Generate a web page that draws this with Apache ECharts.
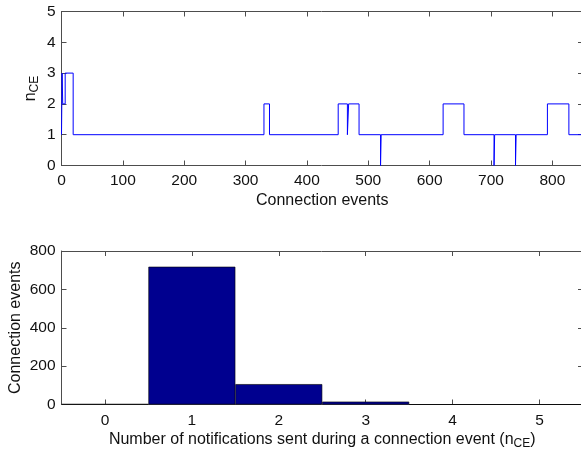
<!DOCTYPE html>
<html><head><meta charset="utf-8">
<script src="https://cdn.jsdelivr.net/npm/echarts@6/dist/echarts.min.js"></script>
<style>html,body{margin:0;padding:0;background:#fff}#c{width:581px;height:456px}</style>
</head><body><div id="c"></div>
<script>
// Top panel: n_CE per connection event, as [event index where value starts, value]
const stepEvents = [0, 1, 2, 6, 19, 330, 339, 451, 466, 468, 485, 520, 521, 622, 656, 705, 706, 740, 741, 792, 827, 848];
const stepValues = [1, 3, 2, 3, 1, 2, 1, 2, 1, 2, 1, 0, 1, 2, 1, 0, 1, 0, 1, 2, 1, 1];
// Bottom panel: histogram
const histCategories = ['0', '1', '2', '3', '4', '5'];
const histCounts = [2, 718, 106, 15, 0, 0];

const FONT = 'Liberation Sans, Arial, Helvetica, sans-serif';
const AX = '#4d4d4d';
const TXT = '#111';
const FS = 15.5;
const NFS = 16;

const stepData = stepEvents.map((x, i) => [x, stepValues[i]]);

const rich = {
  a: {fontSize: NFS, fontFamily: FONT, color: TXT, lineHeight: 17, verticalAlign: 'top'},
  b: {fontSize: 12, fontFamily: FONT, color: TXT, lineHeight: 13, padding: [8, 0, 0, 0]}
};

function boxAxis(type, pos, gridIndex, extra) {
  return Object.assign({
    type: type, position: pos, gridIndex: gridIndex,
    axisLine: {show: true, onZero: false, lineStyle: {color: AX, width: 1}},
    axisTick: {show: true, inside: true, length: 5, lineStyle: {color: AX}},
    axisLabel: {show: false},
    splitLine: {show: false}
  }, extra);
}

const chart = echarts.init(document.getElementById('c'), null, {renderer: 'canvas'});
chart.setOption({
  animation: false,
  textStyle: {fontFamily: FONT},
  grid: [
    {left: 61.5, top: 11.5, width: 521.5, height: 154, containLabel: false, outerBoundsMode: 'none'},
    {left: 61.5, top: 251, width: 521.5, height: 153.5, containLabel: false, outerBoundsMode: 'none'}
  ],
  xAxis: [
    boxAxis('value', 'bottom', 0, {
      min: 0, max: 850, interval: 100,
      axisLabel: {show: true, fontSize: FS, color: TXT, fontFamily: FONT, margin: 7, showMaxLabel: false},
      name: 'Connection events', nameLocation: 'middle', nameGap: 27,
      nameTextStyle: {fontSize: NFS, color: TXT, fontFamily: FONT}
    }),
    boxAxis('value', 'top', 0, {min: 0, max: 850, interval: 100}),
    boxAxis('category', 'bottom', 1, {
      data: histCategories, boundaryGap: true,
      axisTick: {show: true, inside: true, length: 5, alignWithLabel: true, lineStyle: {color: AX}},
      axisLabel: {show: true, fontSize: FS, color: TXT, fontFamily: FONT, margin: 8},
      name: '{a|Number of notifications sent during a connection event (n}{b|CE}{a|)}',
      nameLocation: 'middle', nameGap: 27,
      nameTextStyle: {rich: rich}
    }),
    boxAxis('category', 'top', 1, {
      data: histCategories, boundaryGap: true,
      axisTick: {show: true, inside: true, length: 5, alignWithLabel: true, lineStyle: {color: AX}}
    })
  ],
  yAxis: [
    boxAxis('value', 'left', 0, {
      min: 0, max: 5, interval: 1,
      axisLabel: {show: true, fontSize: FS, color: TXT, fontFamily: FONT, margin: 6},
      name: '{a|n}{b|CE}', nameLocation: 'middle', nameGap: 22, nameRotate: 90,
      nameMoveOverlap: false,
      nameTextStyle: {rich: rich}
    }),
    boxAxis('value', 'right', 0, {min: 0, max: 5, interval: 1}),
    boxAxis('value', 'left', 1, {
      min: 0, max: 800, interval: 200,
      axisLabel: {show: true, fontSize: FS, color: TXT, fontFamily: FONT, margin: 6},
      name: 'Connection events', nameLocation: 'middle', nameGap: 38, nameRotate: 90,
      nameMoveOverlap: false,
      nameTextStyle: {fontSize: NFS, color: TXT, fontFamily: FONT}
    }),
    boxAxis('value', 'right', 1, {min: 0, max: 800, interval: 200})
  ],
  series: [
    {
      type: 'line', xAxisIndex: 0, yAxisIndex: 0, data: stepData, step: 'end',
      showSymbol: false, symbol: 'none',
      lineStyle: {color: '#0000ff', width: 1}, clip: true
    },
    {
      type: 'bar', xAxisIndex: 2, yAxisIndex: 2, data: histCounts, barWidth: '100%',
      itemStyle: {color: '#00008f', borderColor: '#000', borderWidth: 0.6}
    }
  ]
});
</script></body></html>
